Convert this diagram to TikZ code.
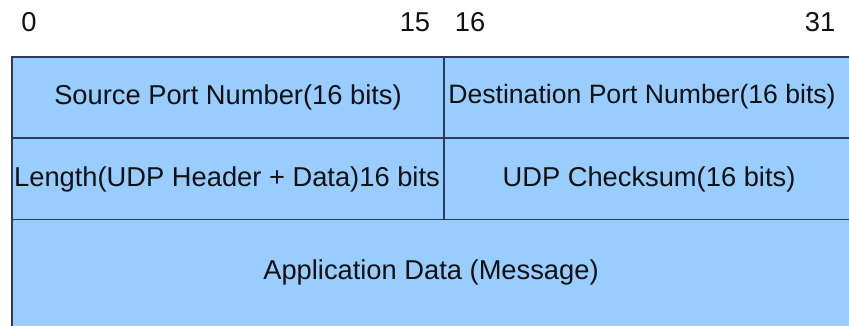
\documentclass[tikz,border=0pt]{standalone}
\usepackage{fontspec}
\setmainfont{Liberation Sans}
\definecolor{cellfill}{HTML}{99CCFF}
\definecolor{rule}{HTML}{2B3B5E}
\definecolor{ink}{HTML}{111111}
\begin{document}
\begin{tikzpicture}[x=1pt,y=-1pt,
  lbl/.style={inner sep=0pt,text=ink,font=\fontsize{27.3}{32}\selectfont},
  gridline/.style={draw=rule,line width=1.5pt}]
\useasboundingbox (0,0) rectangle (849,325);
% cells
\fill[cellfill] (12,56) rectangle (852,328);
\draw[gridline,line width=2pt] (12,56.5) -- (852,56.5);
\draw[gridline] (12,56) -- (12,328);
\draw[gridline] (12,138) -- (852,138);
\draw[gridline] (12,219.5) -- (852,219.5);
\draw[gridline] (444,56) -- (444,219.5);
% bit labels
\node[lbl] (b0) at (29,22) {0};
\node[lbl] (b15) at (415,22) {15};
\node[lbl] (b16) at (470,22) {16};
\node[lbl] (b31) at (820,22) {31};
% field labels
\node[lbl] (src) at (228,97) {Source Port Number(16 bits)};
\node[lbl,font=\fontsize{26.6}{32}\selectfont] (dst) at (642,97) {Destination Port Number(16 bits)};
\node[lbl] (len) at (227,179) {Length(UDP Header + Data)16 bits};
\node[lbl] (chk) at (649,179) {UDP Checksum(16 bits)};
\node[lbl] (app) at (431,272) {Application Data (Message)};
\end{tikzpicture}
\end{document}
